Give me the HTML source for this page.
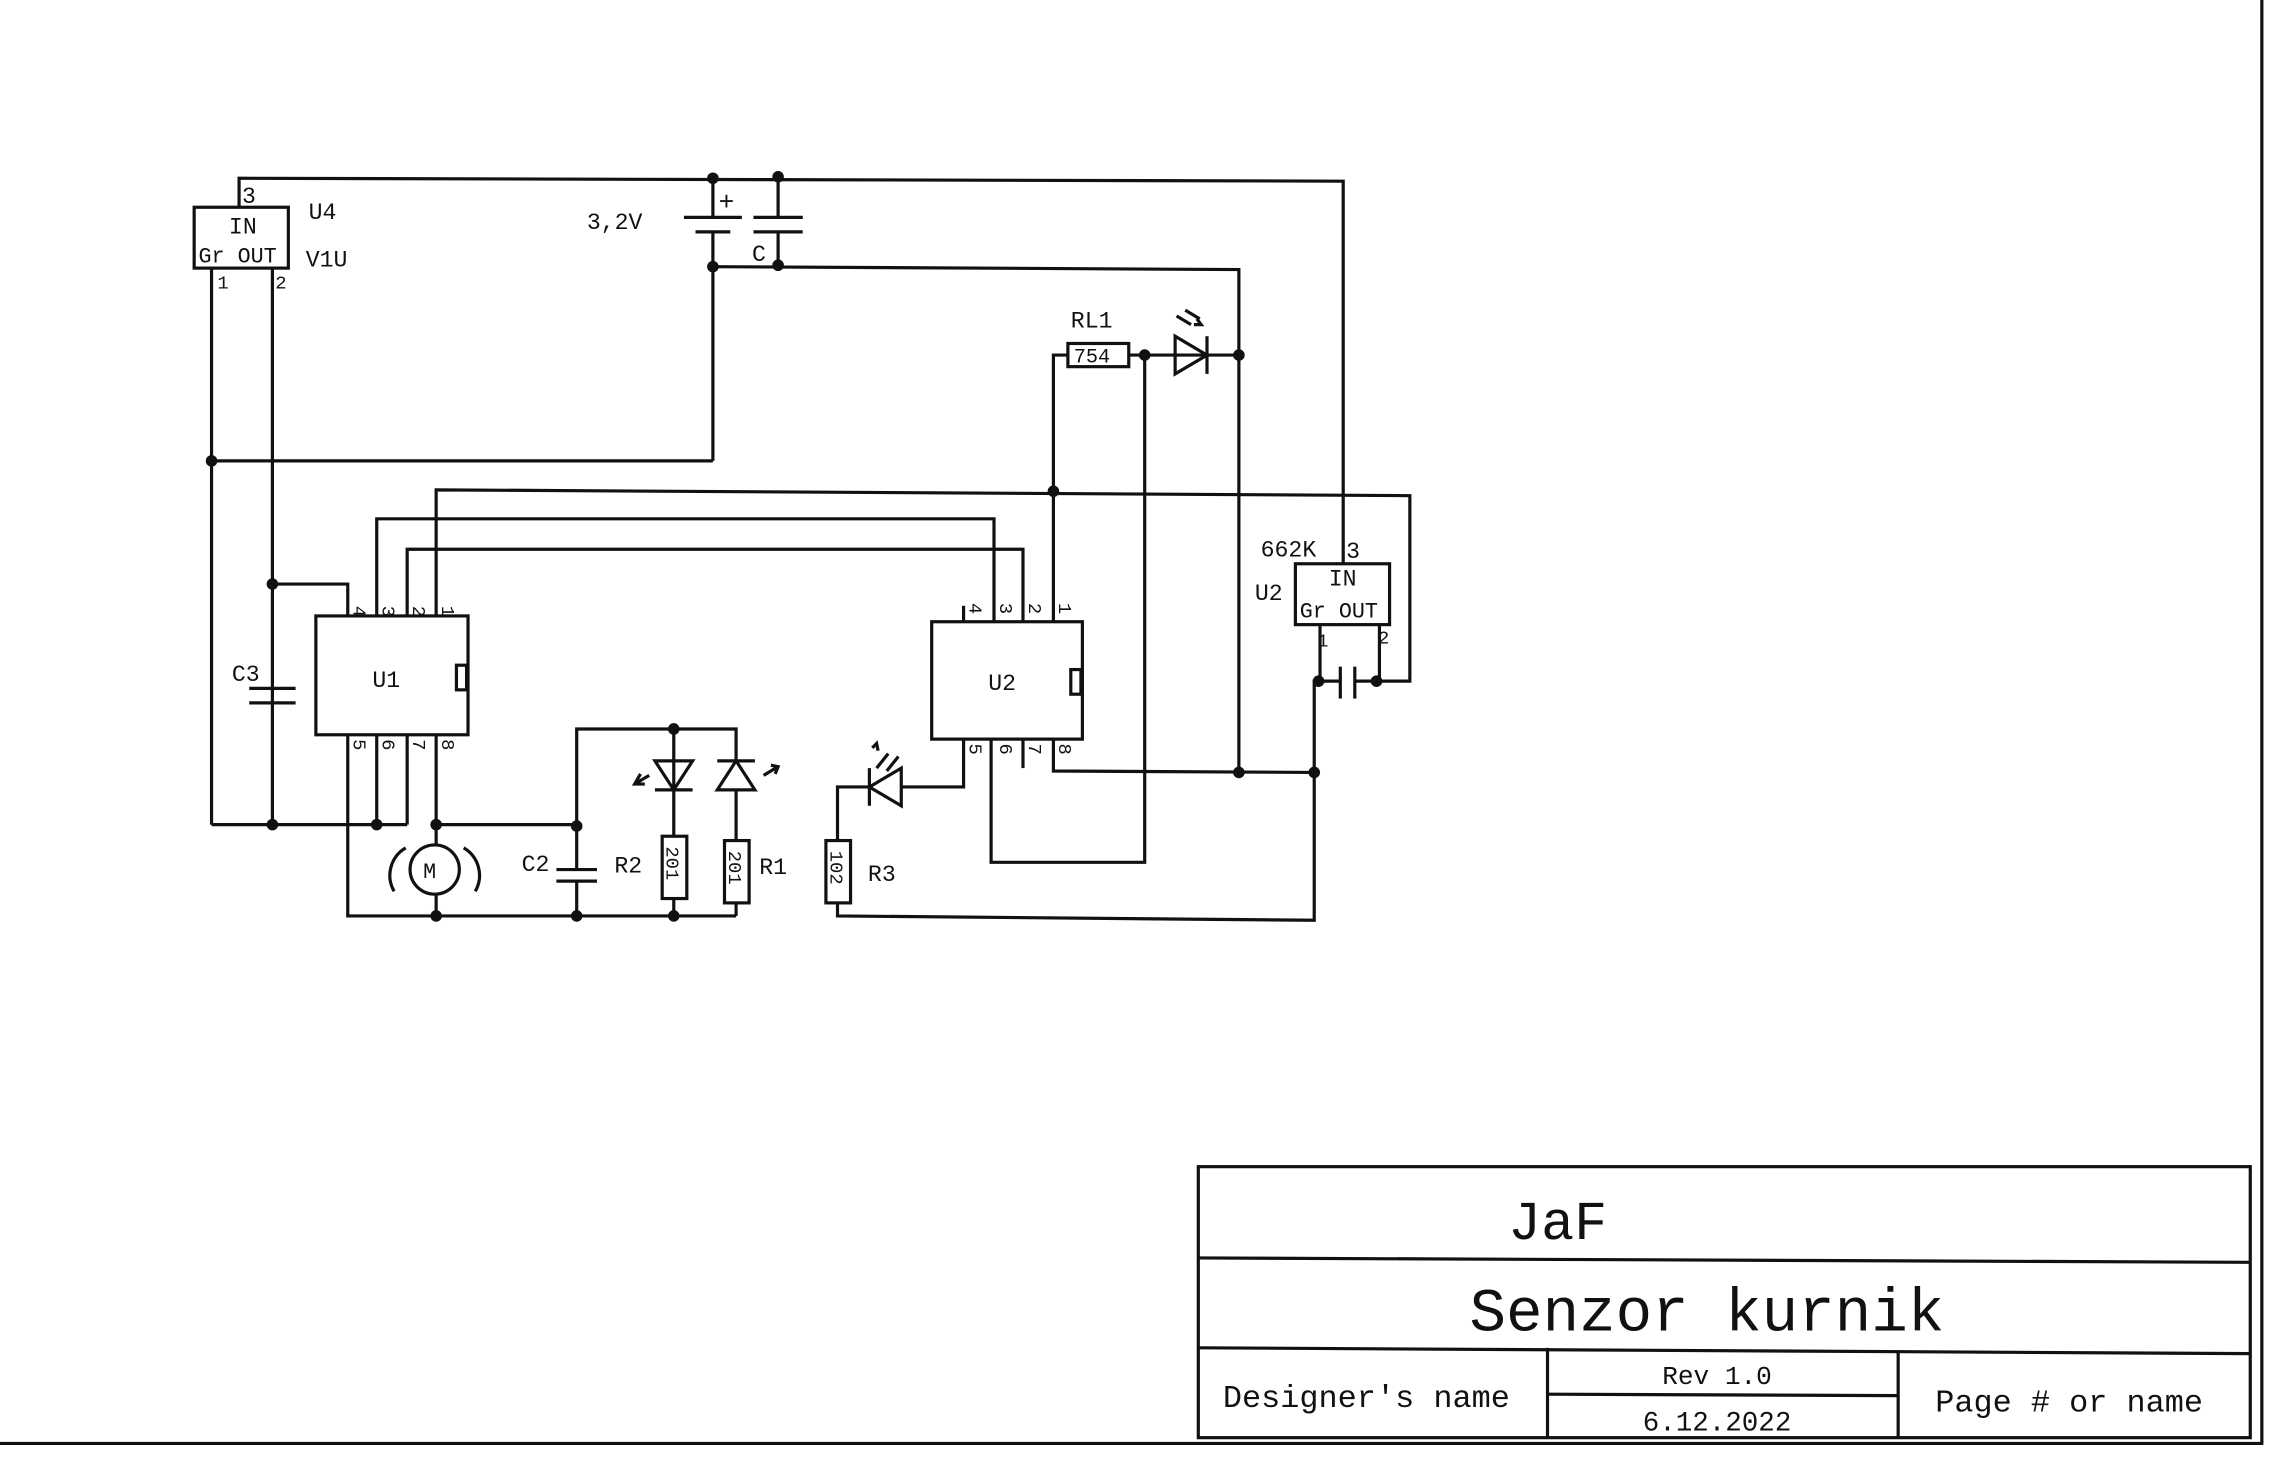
<!DOCTYPE html>
<html><head><meta charset="utf-8"><style>
html,body{margin:0;padding:0;background:#fff;}
svg{display:block}
text{font-family:"Liberation Mono",monospace;fill:#111}
</style></head><body>
<svg width="2272" height="1471" viewBox="0 0 1568 1015" preserveAspectRatio="none" xmlns="http://www.w3.org/2000/svg">
<rect width="1568" height="1015" fill="#fff"/>
<g stroke="#111" stroke-width="2.2" fill="none">
<!-- page border -->
<line x1="0" y1="996" x2="1562" y2="996"/>
<line x1="1561" y1="0" x2="1561" y2="996"/>
<!-- top wire -->
<polyline points="165,143 165,123 927,125 927,389"/>
<!-- U4 -->
<rect x="134" y="143" width="65" height="42"/>
<line x1="146" y1="185" x2="146" y2="569"/>
<line x1="188" y1="185" x2="188" y2="569"/>
<!-- battery -->
<line x1="492" y1="123" x2="492" y2="150"/>
<line x1="472" y1="150" x2="512" y2="150"/>
<line x1="480" y1="160" x2="504" y2="160"/>
<line x1="492" y1="160" x2="492" y2="318"/>
<polyline points="492,318 146,318"/>
<!-- C -->
<line x1="537" y1="122" x2="537" y2="150"/>
<line x1="520" y1="150" x2="554" y2="150"/>
<line x1="520" y1="160" x2="554" y2="160"/>
<line x1="537" y1="160" x2="537" y2="183"/>
<polyline points="492,184 855,186 855,533"/>
<!-- U4 pin2 to U1 pin4 -->
<polyline points="188,403 240,403 240,425"/>
<!-- C3 -->
<line x1="172" y1="475" x2="204" y2="475"/>
<line x1="172" y1="485" x2="204" y2="485"/>
<!-- U1 -->
<rect x="218" y="425" width="105" height="82"/>
<rect x="315" y="459" width="7" height="17"/>
<polyline points="260,425 260,358 686,358 686,429"/>
<polyline points="281,425 281,379 706,379 706,429"/>
<polyline points="301,425 301,338 973,342 973,470 950,470"/>
<line x1="146" y1="569" x2="281" y2="569"/>
<line x1="260" y1="507" x2="260" y2="569"/>
<line x1="281" y1="507" x2="281" y2="569"/>
<polyline points="240,507 240,632 508,632"/>
<polyline points="301,507 301,583"/>
<line x1="301" y1="569" x2="398" y2="569"/>
<circle cx="300" cy="600" r="17"/>
<line x1="301" y1="617" x2="301" y2="632"/>
<path d="M280,585 A22,22 0 0 0 272,615"/>
<path d="M320,585 A22,22 0 0 1 328,615"/>
<!-- C2 -->
<polyline points="398,600 398,503 508,503 508,525"/>
<line x1="384" y1="600" x2="412" y2="600"/>
<line x1="384" y1="608" x2="412" y2="608"/>
<line x1="398" y1="608" x2="398" y2="632"/>
<!-- LEDs -->
<line x1="465" y1="503" x2="465" y2="577"/>
<polygon points="452,525 478,525 465,545"/>
<line x1="452" y1="545" x2="478" y2="545"/>
<polygon points="495,545 521,545 508,525"/>
<line x1="495" y1="525" x2="521" y2="525"/>
<line x1="508" y1="545" x2="508" y2="580"/>
<rect x="457" y="577" width="17" height="43"/>
<rect x="500" y="580" width="17" height="43"/>
<line x1="465" y1="620" x2="465" y2="632"/>
<line x1="508" y1="623" x2="508" y2="632"/>
<path d="M448,535 l-10,6 M442,534 l-4,7 l7,0"/>
<path d="M527,535 l10,-6 M532,528 l5,1 l-2,5"/>
<!-- U2 -->
<rect x="643" y="429" width="104" height="81"/>
<rect x="739" y="462" width="7" height="17"/>
<line x1="665" y1="418" x2="665" y2="429"/>
<polyline points="727,429 727,245 737,245"/>
<rect x="737" y="237" width="42" height="16"/>
<line x1="779" y1="245" x2="855" y2="245"/>
<polygon points="811,232 811,258 833,245"/>
<line x1="833" y1="232" x2="833" y2="258"/>
<path d="M812,218 l10,6 M818,214 l10,6 M826,220 l3,4 l-5,0"/>
<polyline points="790,245 790,595 684,595 684,510"/>
<polyline points="727,510 727,532 907,533"/>
<line x1="706" y1="510" x2="706" y2="530"/>
<polyline points="665,510 665,543 622,543"/>
<polygon points="622,530 622,556 600,543"/>
<line x1="600" y1="530" x2="600" y2="556"/>
<polyline points="600,543 578,543 578,580"/>
<path d="M605,530 l8,-10 M612,532 l8,-10 M602,516 l3,-3 l1,5"/>
<rect x="570" y="580" width="17" height="43"/>
<polyline points="578,623 578,632 907,635 907,470 925,470"/>
<!-- reg U2 -->
<rect x="894" y="389" width="65" height="42"/>
<line x1="911" y1="431" x2="911" y2="470"/>
<line x1="952" y1="431" x2="952" y2="470"/>
<line x1="925" y1="460" x2="925" y2="482"/>
<line x1="935" y1="460" x2="935" y2="482"/>
<line x1="935" y1="470" x2="952" y2="470"/>
<!-- title block -->
<rect x="827" y="805" width="726" height="187"/>
<line x1="827" y1="868" x2="1553" y2="871"/>
<line x1="827" y1="930" x2="1553" y2="934"/>
<line x1="1068" y1="930" x2="1068" y2="992"/>
<line x1="1310" y1="932" x2="1310" y2="992"/>
<line x1="1068" y1="962" x2="1310" y2="963"/>
</g>
<g fill="#111">
<circle cx="492" cy="123" r="4"/><circle cx="537" cy="122" r="4"/>
<circle cx="492" cy="184" r="4"/><circle cx="537" cy="183" r="4"/>
<circle cx="146" cy="318" r="4"/><circle cx="188" cy="403" r="4"/>
<circle cx="188" cy="569" r="4"/><circle cx="260" cy="569" r="4"/>
<circle cx="301" cy="569" r="4"/><circle cx="398" cy="570" r="4"/>
<circle cx="301" cy="632" r="4"/><circle cx="398" cy="632" r="4"/>
<circle cx="465" cy="632" r="4"/><circle cx="465" cy="503" r="4"/>
<circle cx="727" cy="339" r="4"/><circle cx="790" cy="245" r="4"/>
<circle cx="855" cy="245" r="4"/><circle cx="855" cy="533" r="4"/>
<circle cx="907" cy="533" r="4"/><circle cx="910" cy="470" r="4"/>
<circle cx="950" cy="470" r="4"/>
</g>
<g font-size="16">
<text x="167" y="140">3</text>
<text x="158" y="161">IN</text>
<text x="137" y="181" font-size="15">Gr OUT</text>
<text x="150" y="199" font-size="13">1</text><text x="190" y="199" font-size="13">2</text>
<text x="213" y="151">U4</text><text x="211" y="184">V1U</text>
<text x="405" y="158">3,2V</text>
<text x="496" y="145" font-size="18">+</text>
<text x="519" y="180">C</text>
<text x="160" y="470">C3</text>
<text x="257" y="474">U1</text>
<text x="682" y="476">U2</text>
<text x="739" y="226">RL1</text>
<text x="741" y="250" font-size="14">754</text>
<text x="870" y="384">662K</text>
<text x="929" y="385">3</text>
<text x="866" y="414">U2</text>
<text x="917" y="404">IN</text>
<text x="897" y="426" font-size="15">Gr OUT</text>
<text x="909" y="446" font-size="13">1</text><text x="951" y="444" font-size="13">2</text>
<text x="360" y="601">C2</text>
<text x="424" y="602">R2</text>
<text x="524" y="603">R1</text>
<text x="599" y="608">R3</text>
<text x="292" y="606" font-size="15">M</text>
</g>
<g font-size="13">
<text transform="translate(244,418) rotate(90)">4</text>
<text transform="translate(264,418) rotate(90)">3</text>
<text transform="translate(285,418) rotate(90)">2</text>
<text transform="translate(305,418) rotate(90)">1</text>
<text transform="translate(244,510) rotate(90)">5</text>
<text transform="translate(264,510) rotate(90)">6</text>
<text transform="translate(285,510) rotate(90)">7</text>
<text transform="translate(305,510) rotate(90)">8</text>
<text transform="translate(669,416) rotate(90)">4</text>
<text transform="translate(690,416) rotate(90)">3</text>
<text transform="translate(710,416) rotate(90)">2</text>
<text transform="translate(731,416) rotate(90)">1</text>
<text transform="translate(669,513) rotate(90)">5</text>
<text transform="translate(690,513) rotate(90)">6</text>
<text transform="translate(710,513) rotate(90)">7</text>
<text transform="translate(731,513) rotate(90)">8</text>
<text transform="translate(460,584) rotate(90)">201</text>
<text transform="translate(503,587) rotate(90)">201</text>
<text transform="translate(573,587) rotate(90)">102</text>
</g>
<g text-anchor="middle">
<text x="1075" y="855" font-size="38">JaF</text>
<text x="1178" y="918" font-size="42">Senzor kurnik</text>
<text x="943" y="971" font-size="22">Designer's name</text>
<text x="1185" y="955" font-size="18">Rev 1.0</text>
<text x="1185" y="987" font-size="19">6.12.2022</text>
<text x="1428" y="974" font-size="22">Page # or name</text>
</g>
</svg>
</body></html>
